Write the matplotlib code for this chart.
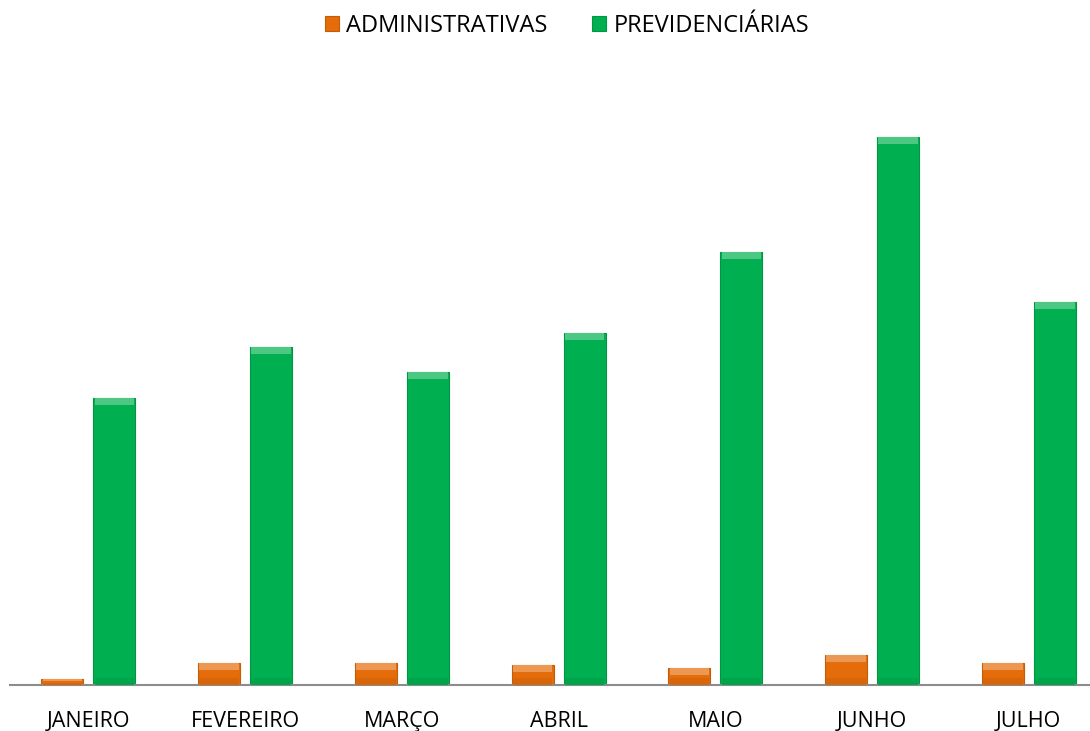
import numpy as np
import matplotlib.pyplot as plt
import matplotlib.colors as mcolors

meses = ['JANEIRO', 'FEVEREIRO', 'MARÇO', 'ABRIL', 'MAIO', 'JUNHO', 'JULHO']
administrativas = [6, 22, 22, 20, 17, 30, 22]
previdenciarias = [287, 338, 313, 352, 433, 548, 383]

cor_adm = '#E46C0A'
cor_prev = '#00B050'

plt.rcParams['font.family'] = ['Open Sans', 'DejaVu Sans']


def clarear(cor, f):
    r, g, b = mcolors.to_rgb(cor)
    return (r + (1 - r) * f, g + (1 - g) * f, b + (1 - b) * f)


def escurecer(cor, f):
    r, g, b = mcolors.to_rgb(cor)
    return (r * (1 - f), g * (1 - f), b * (1 - f))


fig = plt.figure(figsize=(10.9, 7.31), dpi=100)
ax = fig.add_axes([0.0092, 0.0629, 0.9908, 0.8208])

x = np.arange(len(meses))
w = 0.268
desloc = 0.166
pos_adm = x - desloc
pos_prev = x + desloc

# barras principais
ax.bar(pos_adm, administrativas, width=w, color=cor_adm,
       edgecolor=escurecer(cor_adm, 0.15), linewidth=0.8, label='ADMINISTRATIVAS', zorder=2)
ax.bar(pos_prev, previdenciarias, width=w, color=cor_prev,
       edgecolor=escurecer(cor_prev, 0.15), linewidth=0.8, label='PREVIDENCIÁRIAS', zorder=2)

# efeito de bisel no topo e na base
bisel = 7
for px, v in zip(pos_adm, administrativas):
    h = min(bisel, v * 0.4)
    ax.bar(px, h, width=w * 0.94, bottom=v - h, color=clarear(cor_adm, 0.3), linewidth=0, zorder=3)
    ax.bar(px, h, width=w * 0.94, bottom=0, color=escurecer(cor_adm, 0.06), linewidth=0, zorder=3)
for px, v in zip(pos_prev, previdenciarias):
    ax.bar(px, bisel, width=w * 0.94, bottom=v - bisel, color=clarear(cor_prev, 0.3), linewidth=0, zorder=3)
    ax.bar(px, bisel, width=w * 0.94, bottom=0, color=escurecer(cor_prev, 0.06), linewidth=0, zorder=3)

ax.set_xlim(-0.5, 6.39)
ax.set_ylim(0, 600)
ax.set_yticks([])
ax.set_xticks(x)
ax.set_xticklabels(meses, fontsize=15.5, color='#000000')
ax.tick_params(axis='x', length=0, pad=19)
for s in ['top', 'right', 'left']:
    ax.spines[s].set_visible(False)
ax.spines['bottom'].set_color('#8C8C8C')
ax.spines['bottom'].set_linewidth(1.5)

fig.legend(loc='upper center', bbox_to_anchor=(0.52, 1.01), ncol=2, frameon=False,
           fontsize=17, handlelength=0.6, handleheight=0.6, handletextpad=0.3,
           columnspacing=1.9)

plt.savefig('out.png', dpi=100)
